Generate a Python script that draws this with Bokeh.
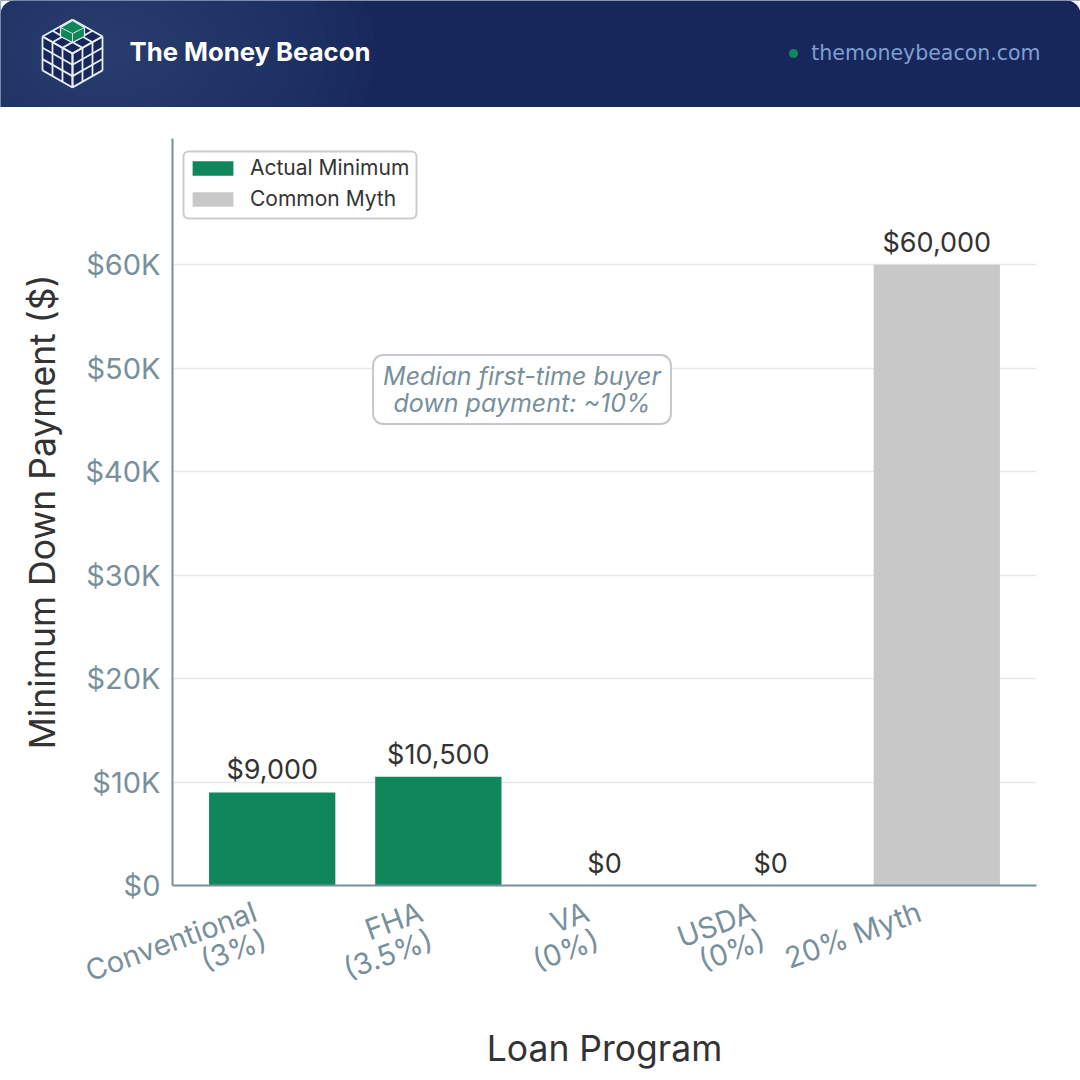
import numpy as np
from bokeh.embed import file_html
from bokeh.resources import INLINE
from bokeh.core.properties import value
from bokeh.layouts import column
from bokeh.models import (BoxAnnotation, ColumnDataSource, FixedTicker, Label, Legend, LegendItem,
                          LinearAxis, Range1d)
from bokeh.plotting import figure

# ---- data ----
categories = ["Conventional\n(3%)", "FHA\n(3.5%)", "VA\n(0%)", "USDA\n(0%)", "20% Myth"]
actual_cats = categories[:4]
actual_values = [9000, 10500, 0, 0]
myth_cats = categories[4:]
myth_values = [60000]
value_labels_actual = ["$9,000", "$10,500", "$0", "$0"]
value_labels_myth = ["$60,000"]
y_ticks = [0, 10000, 20000, 30000, 40000, 50000, 60000]
y_tick_labels = ["$0", "$10K", "$20K", "$30K", "$40K", "$50K", "$60K"]
brand = "The Money Beacon"
site = "themoneybeacon.com"
note_text = "Median first-time buyer\ndown payment: ~10%"

GREEN = "#10875a"
GRAY = "#c8c8c8"
SLATE = "#78909c"
INK = "#333333"
NAVY = "#17275c"
FONT = "Inter"

# ---- header band ----
h = figure(width=1080, height=107, x_range=Range1d(0, 1080), y_range=Range1d(107, 0),
           output_backend="svg", toolbar_location=None, min_border=0, outline_line_color=None,
           x_axis_type=None, y_axis_type=None, background_fill_color=NAVY, border_fill_color=None)
h.grid.visible = False

# soft glow behind the logo
for r in np.linspace(270, 30, 16):
    h.ellipse([105], [50], width=2 * r, height=1.25 * r, fill_color="#4a5a90", fill_alpha=0.045, line_color=None)

# rounded top corners
R = 14
t = np.linspace(0, np.pi / 2, 12)
h.patch(list(R - R * np.cos(t)) + [0], list(R - R * np.sin(t)) + [0], fill_color="white", line_color=None)
h.patch(list(1080 - R + R * np.cos(t)) + [1080], list(R - R * np.sin(t)) + [0], fill_color="white", line_color=None)

# isometric logo
cx, cy, dx, dy, hz = 72, 53, 10, 5.67, 11.3
def top(a, b):
    return cx + (a - b) * dx, cy - 34 + (a + b) * dy
def lf(a, b):  # a across, b down
    return cx - 30 + a * dx, cy - 17 + a * dy + b * hz
def rt(a, b):
    return cx + a * dx, cy + (3 - a) * 0 + 0 - a * dy + b * hz
xs, ys = [], []
for i in range(4):
    for f, args in ((top, lambda k: (i, k)), (top, lambda k: (k, i)), (lf, lambda k: (i, k)),
                    (lf, lambda k: (k, i)), (rt, lambda k: (i, k)), (rt, lambda k: (k, i))):
        a = f(*args(0)); b = f(*args(3))
        xs.append([a[0], b[0]]); ys.append([a[1], b[1]])
h.patch([72, 102, 102, 72, 42, 42], [19, 36, 70, 87, 70, 36], fill_color=NAVY, line_color=None)
h.multi_line(xs, ys, line_color="#e8ecf4", line_width=1.8)
h.patch([72, 84, 84, 72, 60, 60], [20, 27, 36, 42, 36, 27], fill_color=GREEN, line_color="#e8ecf4", line_width=1.2)
h.multi_line([[60, 72, 84], [72, 72]], [[27, 33, 27], [33, 42]], line_color="#cfe3da", line_width=1)

h.text([129], [51], text=[brand], text_font=value(FONT), text_font_style="bold", text_font_size="25.7px",
       text_color="white", text_baseline="middle", text_align="left")
h.scatter([793], [53], size=9, fill_color=GREEN, line_color=None)
h.text([1040], [52], text=[site], text_font=value("DejaVu Sans"), text_font_size="20.5px",
       text_color="#7f9fd0", text_baseline="middle", text_align="right")

# ---- chart ----
p = figure(width=1080, height=973,
           x_range=Range1d(-0.6, 4.6),
           y_range=Range1d(0, 72200), x_axis_type=None,
           output_backend="svg", toolbar_location=None,
           min_border_left=172, min_border_right=44, min_border_top=31, min_border_bottom=195,
           outline_line_color=None, background_fill_color="white", border_fill_color=None)

src_a = ColumnDataSource(dict(x=[categories.index(c) for c in actual_cats], y=actual_values, t=value_labels_actual))
src_m = ColumnDataSource(dict(x=[categories.index(c) for c in myth_cats], y=myth_values, t=value_labels_myth))
r_a = p.vbar(x="x", top="y", width=0.76, source=src_a, fill_color=GREEN, line_color=None)
r_m = p.vbar(x="x", top="y", width=0.76, source=src_m, fill_color=GRAY, line_color=None)
for s in (src_a, src_m):
    p.text(x="x", y="y", text="t", source=s, text_font=value(FONT), text_font_size="27px",
           text_color=INK, text_align="center", text_baseline="bottom", y_offset=-6)

p.ygrid.ticker = FixedTicker(ticks=y_ticks)
p.ygrid.grid_line_color = "#e8e8e8"
p.ygrid.grid_line_width = 1.5

yax = p.yaxis[0]
yax.ticker = FixedTicker(ticks=y_ticks)
yax.major_label_overrides = dict(zip(y_ticks, y_tick_labels))
yax.axis_label = "Minimum Down Payment ($)"

# bottom axis on a companion range, nudged so the right-aligned rotated labels sit left of their bars
p.extra_x_ranges = {"ticks": Range1d(-0.6 + 0.072, 4.6 + 0.072)}
tick_positions = list(range(len(categories)))
tick_labels = categories[:4] + [categories[4] + "\n"]
xax = LinearAxis(x_range_name="ticks", ticker=FixedTicker(ticks=tick_positions),
                 major_label_overrides=dict(zip(tick_positions, tick_labels)))
xax.axis_label = "Loan Program"
p.add_layout(xax, "below")
for ax in (xax, yax):
    ax.axis_line_color = SLATE
    ax.axis_line_width = 2
    ax.major_tick_line_color = None
    ax.minor_tick_line_color = None
    ax.major_label_text_font = FONT
    ax.major_label_text_font_size = "29px"
    ax.major_label_text_color = SLATE
    ax.axis_label_text_font = FONT
    ax.axis_label_text_font_size = "35.5px"
    ax.axis_label_text_font_style = "normal"
    ax.axis_label_text_color = INK
yax.major_label_standoff = 6
yax.axis_label_standoff = 18
xax.major_label_orientation = np.deg2rad(20)
xax.major_label_text_line_height = 0.85
xax.major_label_standoff = 33
xax.axis_label_standoff = -23

legend_box = BoxAnnotation(left=11, right=244, top=734, bottom=667,
                           left_units="screen", right_units="screen", top_units="screen", bottom_units="screen",
                           fill_color="white", fill_alpha=1, line_color="#cccccc", line_alpha=1, line_width=2,
                           border_radius=5)
p.add_layout(legend_box)
legend = Legend(items=[LegendItem(label="Actual Minimum", renderers=[r_a]),
                       LegendItem(label="Common Myth", renderers=[r_m])],
                location=(15, 674), orientation="vertical",
                glyph_width=51, glyph_height=18, label_standoff=12, spacing=6, padding=9, margin=0,
                label_text_font=FONT, label_text_font_size="21px", label_text_color=INK,
                border_line_color=None, background_fill_alpha=0)
p.add_layout(legend, "center")

note = Label(x=349.5, y=496, x_units="screen", y_units="screen", text=note_text,
             text_font=FONT, text_font_style="italic", text_font_size="25px", text_color=SLATE,
             text_align="center", text_baseline="middle", text_line_height=0.9,
             background_fill_color="white", border_line_color="#c4c8cc", border_line_width=2,
             border_radius=10, padding=(10, 6))
p.add_layout(note)

page = column(column(h), column(p), spacing=0)
open("out.html", "w").write(file_html(page, INLINE))
